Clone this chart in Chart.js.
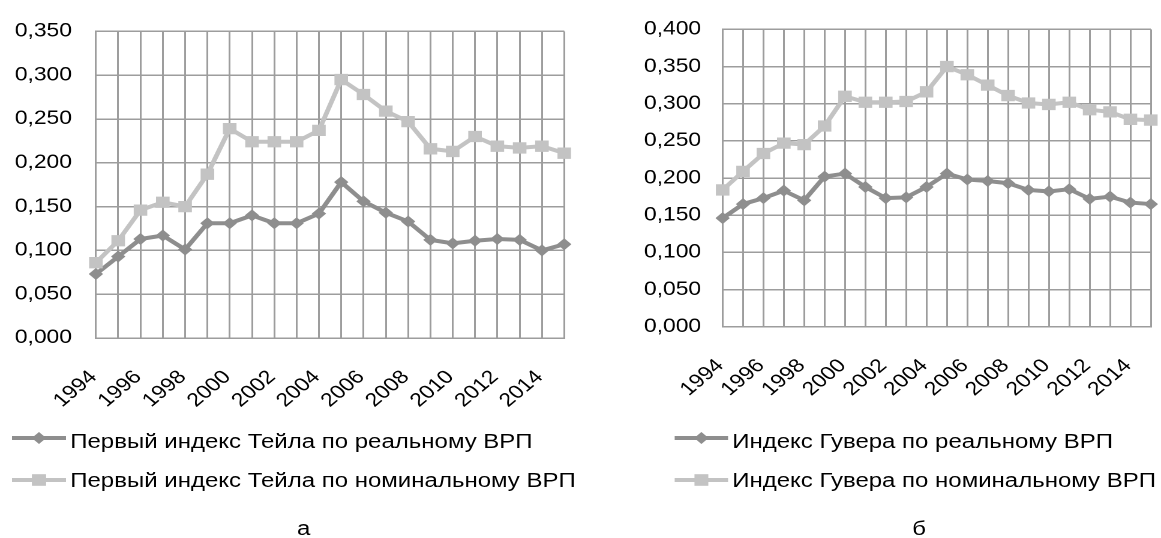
<!DOCTYPE html>
<html>
<head>
<meta charset="utf-8">
<script src="https://cdn.jsdelivr.net/npm/chart.js@4.4.0/dist/chart.umd.min.js"></script>
<style>
  body { margin: 0; background: #fff; width: 1161px; height: 538px; position: relative; overflow: hidden;
         font-family: "Liberation Sans", Arial, sans-serif; color: #000; }
  /* la imagen original está estirada en horizontal, así que estiramos todo igual */
  #lienzo { position: absolute; left: 0; top: 0; width: 968px; height: 538px;
            transform: scaleX(1.2); transform-origin: 0 0; }
  .box { position: absolute; top: 0; height: 420px; }
  .leg { position: absolute; font-size: 20px; line-height: 22px; white-space: nowrap; }
  .cap { position: absolute; top: 517px; font-size: 20px; line-height: 22px; width: 40px; text-align: center; }
</style>
</head>
<body>
<div id="lienzo">
  <div class="box" style="left:0;width:490px"><canvas id="graficoTeil" width="490" height="420"></canvas></div>
  <div class="box" style="left:500px;width:467px"><canvas id="graficoHoover" width="467" height="420"></canvas></div>
  <div id="leyendas"></div>
  <div class="cap" style="left:233px">а</div>
  <div class="cap" style="left:746px">б</div>
</div>

<script>
// Datos
const anios = ['1994','1995','1996','1997','1998','1999','2000','2001','2002','2003','2004',
  '2005','2006','2007','2008','2009','2010','2011','2012','2013','2014','2015'];

const teilReal = [0.073, 0.093, 0.113, 0.117, 0.101, 0.131, 0.131, 0.140, 0.131, 0.131, 0.142,
  0.178, 0.156, 0.143, 0.133, 0.112, 0.108, 0.111, 0.113, 0.112, 0.100, 0.107];
const teilNominal = [0.086, 0.111, 0.146, 0.155, 0.150, 0.187, 0.239, 0.224, 0.224, 0.224, 0.237,
  0.295, 0.278, 0.259, 0.247, 0.216, 0.213, 0.230, 0.219, 0.217, 0.219, 0.211];

const hooverReal = [0.146, 0.165, 0.173, 0.183, 0.170, 0.202, 0.206, 0.188, 0.173, 0.174, 0.188,
  0.206, 0.198, 0.196, 0.193, 0.184, 0.182, 0.185, 0.172, 0.175, 0.167, 0.165];
const hooverNominal = [0.184, 0.209, 0.233, 0.247, 0.245, 0.270, 0.310, 0.302, 0.302, 0.303, 0.316,
  0.350, 0.339, 0.325, 0.311, 0.301, 0.299, 0.302, 0.292, 0.289, 0.279, 0.278];

const nombresTeil = ['Первый индекс Тейла по реальному ВРП', 'Первый индекс Тейла по номинальному ВРП'];
const nombresHoover = ['Индекс Гувера по реальному ВРП', 'Индекс Гувера по номинальному ВРП'];

const colorOscuro = '#8e8e8e';
const colorClaro = '#c3c3c3';
const colorGrilla = '#9d9d9d';
const fuente = { family: '"Liberation Sans", Arial, sans-serif', size: 19 };

function serie(nombre, datos, color, estilo, radio) {
  return {
    label: nombre,
    data: datos,
    borderColor: color,
    backgroundColor: color,
    borderWidth: 4,
    pointStyle: estilo,
    pointRadius: radio,
    pointHoverRadius: radio,
    pointBorderWidth: 0,
    tension: 0
  };
}

// arma un grafico; ejeY = ancho del eje, ejeX = alto del eje, der = margen derecho
function crearGrafico(id, reales, nominales, nombres, maximo, ejeY, ejeX, der, sepY) {
  const ctx = document.getElementById(id).getContext('2d');
  return new Chart(ctx, {
    type: 'line',
    data: {
      labels: anios,
      datasets: [
        serie(nombres[1], nominales, colorClaro, 'rect', 8),
        serie(nombres[0], reales, colorOscuro, 'rectRot', 6)
      ]
    },
    options: {
      responsive: false,
      animation: false,
      devicePixelRatio: 2,
      layout: { padding: { top: 28, right: der, left: 0, bottom: 0 } },
      plugins: { legend: { display: false }, tooltip: { enabled: false } },
      scales: {
        x: {
          offset: false,
          grid: { color: colorGrilla, lineWidth: 1.5, drawTicks: false },
          border: { color: colorGrilla, width: 1.5 },
          ticks: {
            autoSkip: false, maxRotation: 45, minRotation: 45, padding: 28, labelOffset: -2,
            color: '#000', font: fuente,
            callback: (v, i) => (i % 2 === 0 ? anios[i] : '')
          },
          afterFit: s => {
            s.height = ejeX;
            // sin relleno extra por las etiquetas giradas
            s.paddingLeft = 0;
            s.paddingRight = 0;
          }
        },
        y: {
          min: 0, max: maximo,
          grid: { color: colorGrilla, lineWidth: 1.5, drawTicks: false },
          border: { color: colorGrilla, width: 1.5 },
          ticks: {
            stepSize: 0.05, padding: sepY, color: '#000', font: fuente,
            callback: v => v.toFixed(3).replace('.', ',')
          },
          afterFit: s => { s.width = ejeY; }
        }
      }
    }
  });
}

crearGrafico('graficoTeil', teilReal, teilNominal, nombresTeil, 0.35, 79.9, 82, 19.8, 20);
crearGrafico('graficoHoover', hooverReal, hooverNominal, nombresHoover, 0.4, 102.2, 93.3, 5.7, 18);

// Leyendas como en Excel (línea + marcador)
function leyenda(x, yLinea, yTexto, nombre, color, cuadrado) {
  const cont = document.getElementById('leyendas');
  const marca = cuadrado
    ? '<rect x="16.7" y="5.2" width="11.6" height="11.6" fill="' + color + '"/>'
    : '<polygon points="22.5,5 28.5,11 22.5,17 16.5,11" fill="' + color + '"/>';
  const svg = document.createElement('div');
  svg.style.cssText = 'position:absolute;left:' + x + 'px;top:' + (yLinea - 11) + 'px';
  svg.innerHTML = '<svg width="45" height="22"><line x1="0" y1="11" x2="45" y2="11" stroke="' + color +
    '" stroke-width="4"/>' + marca + '</svg>';
  cont.appendChild(svg);
  const txt = document.createElement('div');
  txt.className = 'leg';
  txt.style.left = (x + 48.5) + 'px';
  txt.style.top = yTexto + 'px';
  txt.textContent = nombre;
  cont.appendChild(txt);
}

leyenda(10, 438, 430, nombresTeil[0], colorOscuro, false);
leyenda(10, 480, 469, nombresTeil[1], colorClaro, true);
leyenda(561.7, 438, 430, nombresHoover[0], colorOscuro, false);
leyenda(561.7, 480, 469, nombresHoover[1], colorClaro, true);
</script>
</body>
</html>
